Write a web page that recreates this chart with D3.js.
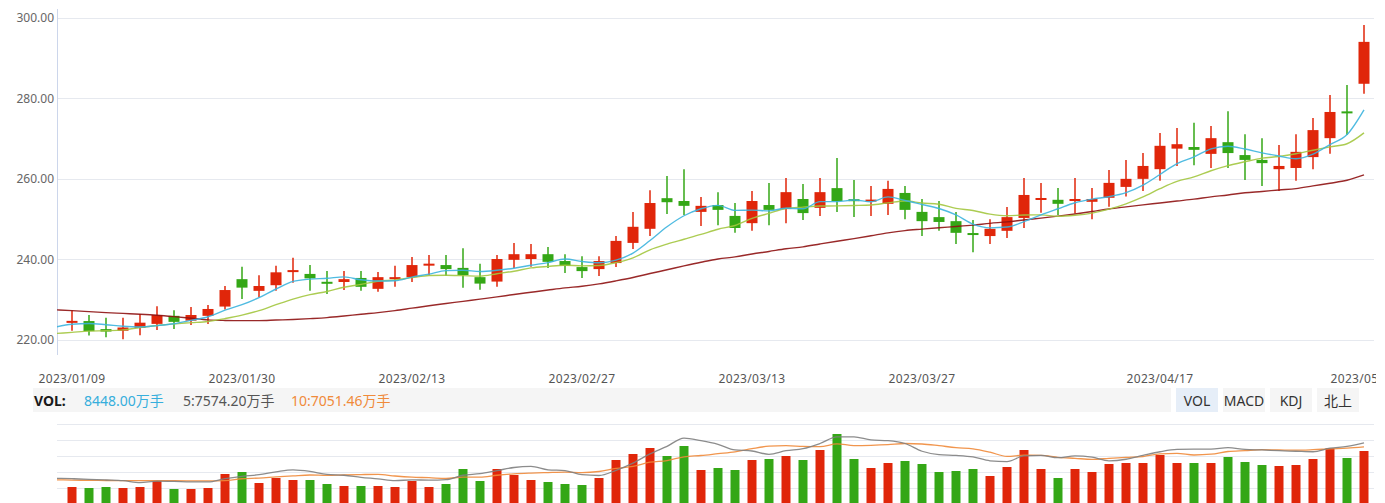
<!DOCTYPE html>
<html><head><meta charset="utf-8">
<script src="https://cdn.jsdelivr.net/npm/d3@7"></script>
<style>
html,body{margin:0;padding:0;background:#fff;overflow:hidden}
svg{display:block;font-family:"Noto Sans","Noto Sans CJK SC",sans-serif}
</style></head><body>
<svg id="c" width="1385" height="503"></svg>
<script>
// ---------------- data ----------------
const prevDate = "2023/01/06";
const dates = [
"2023/01/09","2023/01/10","2023/01/11","2023/01/12","2023/01/13","2023/01/16","2023/01/17","2023/01/18","2023/01/19","2023/01/20",
"2023/01/30","2023/01/31","2023/02/01","2023/02/02","2023/02/03","2023/02/06","2023/02/07","2023/02/08","2023/02/09","2023/02/10",
"2023/02/13","2023/02/14","2023/02/15","2023/02/16","2023/02/17","2023/02/20","2023/02/21","2023/02/22","2023/02/23","2023/02/24",
"2023/02/27","2023/02/28","2023/03/01","2023/03/02","2023/03/03","2023/03/06","2023/03/07","2023/03/08","2023/03/09","2023/03/10",
"2023/03/13","2023/03/14","2023/03/15","2023/03/16","2023/03/17","2023/03/20","2023/03/21","2023/03/22","2023/03/23","2023/03/24",
"2023/03/27","2023/03/28","2023/03/29","2023/03/30","2023/03/31","2023/04/03","2023/04/04","2023/04/06","2023/04/07",
"2023/04/10","2023/04/11","2023/04/12","2023/04/13","2023/04/14","2023/04/17","2023/04/18","2023/04/19","2023/04/20","2023/04/21",
"2023/04/24","2023/04/25","2023/04/26","2023/04/27","2023/04/28","2023/05/04","2023/05/05","2023/05/08"];
const open  = [224.3,224.7,222.7,222.3,223.0,224.0,226.0,224.8,226.0,228.3,
235.1,232.2,233.6,236.7,236.4,234.2,234.4,235.4,232.7,235.1,
235.6,238.5,238.6,237.9,235.6,234.5,239.9,240.1,241.3,239.6,
238.1,237.6,239.1,244.1,247.6,255.2,254.5,251.8,253.5,250.8,
249.0,253.5,252.5,255.0,252.8,257.7,254.7,254.4,253.8,256.5,
251.8,250.5,249.5,246.3,245.8,247.1,250.3,254.8,254.8,
254.5,254.3,255.3,258.0,260.0,262.4,267.5,267.9,266.2,269.1,
265.9,264.7,262.4,262.7,265.4,270.1,276.5,283.6];
const high  = [227.3,226.2,225.5,225.5,226.4,228.4,227.4,228.2,228.7,233.4,
238.2,236.1,238.4,240.4,238.6,237.1,237.1,237.1,236.9,238.4,
240.6,241.1,241.1,242.8,238.9,241.1,244.1,243.8,243.1,241.3,
240.8,240.8,245.8,251.8,257.2,260.7,262.4,255.5,256.7,254.0,
257.0,259.0,260.2,258.7,260.2,265.2,259.7,258.2,259.5,258.2,
255.0,254.5,251.8,249.8,250.0,253.0,260.2,259.0,257.7,
260.2,257.7,262.2,264.7,266.4,271.4,272.6,273.9,273.1,276.8,
271.1,270.1,268.4,271.1,275.1,280.8,283.3,298.2];
const low   = [222.3,221.1,220.7,220.2,221.2,222.5,222.7,223.7,224.0,227.6,
230.2,230.6,232.2,234.2,232.2,231.4,232.4,232.2,232.0,233.2,
234.4,236.1,235.9,233.0,232.5,233.2,237.9,238.2,237.9,236.6,
235.4,235.9,238.1,242.6,245.8,251.3,251.0,248.3,248.5,246.6,
247.1,248.5,249.0,249.8,250.8,251.8,250.5,250.8,251.0,250.0,
245.8,247.1,243.8,241.8,243.8,245.3,247.8,251.6,251.0,
251.4,250.0,253.1,255.6,257.0,259.5,263.2,263.4,262.7,262.7,
259.7,258.2,257.0,259.5,262.4,266.2,270.9,281.1];
const close = [224.5,222.2,222.1,223.1,224.3,226.2,224.5,226.2,227.7,232.4,
233.0,233.4,236.8,237.1,235.3,234.0,235.1,233.2,235.6,235.6,
238.6,238.7,237.6,236.1,234.0,240.1,241.3,241.3,239.4,238.4,
237.1,239.6,244.6,248.1,254.0,254.2,253.3,253.3,252.3,247.8,
254.5,252.3,256.7,251.5,256.7,254.5,254.3,254.6,257.5,252.3,
249.5,249.3,246.6,246.2,247.6,250.5,256.0,255.0,253.8,
255.0,255.0,259.0,260.0,263.2,268.2,268.6,267.2,270.1,266.4,
264.7,263.9,263.2,266.7,272.1,276.6,276.3,294.0];
// volume in 万手
const volume = [2655,2494,2655,2494,2655,3620,2333,2333,2494,4747,
5068,3298,4103,3781,3781,3138,2816,2816,2816,2655,
3620,2655,3138,5551,3620,5551,4586,3781,3459,3138,
2977,4103,6999,7965,8930,7643,9252,5390,5712,5390,
6999,7160,7643,6999,8608,11183,7160,5712,6516,6838,
6356,5068,5229,5551,4425,5873,8608,5551,4103,
5551,5068,6356,6516,6516,7804,6516,6516,6516,7482,
6677,6195,6034,6195,7160,8882,7321,8448];
// moving averages (first entry belongs to prevDate)
const ma5 = [223.2,223.9,224.1,223.8,223.4,223.24,223.58,224.04,224.86,225.78,227.40,
228.76,230.54,232.66,234.54,235.12,235.32,235.66,234.94,234.64,234.70,
235.62,236.34,237.22,237.32,237.00,237.30,237.82,238.56,239.22,240.10,
239.50,239.16,239.82,241.56,244.68,248.10,250.84,252.58,253.42,252.18,
252.24,252.04,252.72,252.56,254.34,254.34,254.74,254.32,255.52,254.64,
253.64,252.64,251.04,248.78,247.84,248.04,249.38,251.06,252.58,
254.06,254.96,255.56,256.56,258.44,261.08,263.80,265.44,267.46,268.10,
267.40,266.46,265.66,264.98,266.12,268.50,270.98,277.14];
const ma10 = [221.6,221.9,222.2,222.3,222.5,223.1,223.6,224.0,224.3,224.6,225.32,
226.17,227.29,228.76,230.16,231.26,232.04,233.10,233.80,234.59,234.91,
235.47,236.00,236.08,235.98,235.85,236.46,237.08,237.89,238.27,238.55,
238.40,238.49,239.19,240.39,242.39,243.80,245.00,246.20,247.49,248.43,
250.17,251.44,252.65,252.99,253.26,253.29,253.39,253.52,254.04,254.49,
253.99,253.69,252.68,252.15,251.24,250.84,251.01,251.05,250.68,
250.95,251.50,252.47,253.81,255.51,257.57,259.38,260.50,262.01,263.27,
264.24,265.13,265.55,266.22,267.11,267.95,268.72,271.40];
const ma30 = [227.5,227.3,227.05,226.8,226.6,226.4,226.15,225.8,225.4,225.0,224.85,
224.8,224.8,224.95,225.1,225.3,225.55,225.95,226.4,226.8,227.3,
227.9,228.5,229.05,229.6,230.15,230.7,231.3,231.85,232.4,232.93,
233.35,233.93,234.68,235.51,236.50,237.43,238.39,239.30,240.12,240.63,
241.35,241.98,242.64,243.12,243.83,244.52,245.16,245.87,246.60,247.16,
247.52,247.87,248.17,248.51,248.96,249.31,249.80,250.26,250.74,
251.29,251.89,252.53,253.05,253.55,254.02,254.50,254.97,255.53,256.00,
256.56,256.87,257.24,257.57,258.26,258.92,259.65,260.97];
const volMa5 = [3140,3090,3020,2930,2840,2591,2784,2751,2687,2687,3105,
3395,3588,3942,4199,4006,3620,3524,3266,3073,2848,
2945,2912,2977,3524,3717,4103,4489,4618,4199,4103,
3588,3492,4135,5036,6195,7128,8158,7836,7385,6677,
6549,6130,6581,6838,7482,8319,8319,7932,7836,7482,
6516,6098,6001,5808,5326,5229,5937,6002,5712,
5937,5776,5326,5519,6001,6452,6742,6774,6774,6967,
6741,6677,6581,6517,6452,6893,7118,7574.2];
const volMa10 = [2950,2920,2890,2870,2860,2850,2860,2840,2820,2820,2848,
3089,3170,3315,3443,3556,3508,3556,3604,3636,3427,
3282,3218,3122,3299,3283,3524,3701,3797,3862,3910,
3846,3990,4377,4618,5149,5358,5825,5986,6211,6436,
6838,7144,7208,7112,7080,7434,7224,7257,7337,7482,
7418,7208,6967,6822,6404,5873,6018,6002,5760,
5632,5503,5632,5760,5857,6195,6259,6050,6146,6484,
6597,6709,6677,6645,6710,6817,6898,7051.46];
const tickDates = ["2023/01/09","2023/01/30","2023/02/13","2023/02/27","2023/03/13","2023/03/27","2023/04/17","2023/05/08"];
const priceTicks = [220,240,260,280,300];
const legendLabel = "VOL:";
const legendTexts = ["8448.00万手","5:7574.20万手","10:7051.46万手"];
const tabs = ["VOL","MACD","KDJ","北上"];

// ---------------- drawing ----------------
const UP = "#e0260a", DOWN = "#34a716";
const svg = d3.select("#c");
const L = 57, R = 1374;
const allDates = [prevDate, ...dates];
const x = d3.scaleBand().domain(allDates).range([46.5, 1372.5]);
const cx = d => x(d) + x.bandwidth() / 2;
const y = d3.scaleLinear().domain([220, 300]).range([340, 17.7]);
const yv = d3.scaleLinear().domain([0, 12873]).range([503.5, 423.5]);
const yvl = d3.scaleLinear().domain([0, 9976]).range([503.5, 423.5]);

const defs = svg.append("defs");
defs.append("clipPath").attr("id", "cp").append("rect").attr("x", L).attr("y", 0).attr("width", R - L + 2).attr("height", 356);
defs.append("clipPath").attr("id", "cv").append("rect").attr("x", L).attr("y", 415).attr("width", R - L + 2).attr("height", 90);
defs.append("clipPath").attr("id", "cx").append("rect").attr("x", 0).attr("y", 360).attr("width", 1376).attr("height", 28);

// price grid
svg.append("g").selectAll("line").data(priceTicks).join("line")
  .attr("x1", L).attr("x2", R).attr("y1", d => Math.round(y(d)) + 0.5).attr("y2", d => Math.round(y(d)) + 0.5)
  .attr("stroke", "#e6e9ef").attr("stroke-width", 1);
svg.append("g").selectAll("text").data(priceTicks).join("text")
  .attr("x", 54).attr("y", d => y(d)).attr("dy", "0.36em").attr("text-anchor", "end")
  .attr("font-size", 12).attr("fill", "#666").text(d => d.toFixed(2));
svg.append("line").attr("x1", L + 0.5).attr("x2", L + 0.5).attr("y1", 9).attr("y2", 355)
  .attr("stroke", "#ccd6eb").attr("stroke-width", 1);

// candles
const idx = d3.range(dates.length);
const pg = svg.append("g").attr("clip-path", "url(#cp)");
const bw = 11;
pg.append("g").selectAll("line").data(idx).join("line")
  .attr("x1", i => cx(dates[i])).attr("x2", i => cx(dates[i]))
  .attr("y1", i => y(high[i])).attr("y2", i => y(low[i]))
  .attr("stroke", i => close[i] >= open[i] ? UP : DOWN).attr("stroke-width", 1.5);
pg.append("g").selectAll("rect").data(idx).join("rect")
  .attr("x", i => cx(dates[i]) - bw / 2)
  .attr("y", i => Math.min(y(open[i]), y(close[i])) - (Math.abs(y(open[i]) - y(close[i])) < 2 ? 1 : 0))
  .attr("width", bw)
  .attr("height", i => Math.max(2, Math.abs(y(open[i]) - y(close[i]))))
  .attr("fill", i => close[i] >= open[i] ? UP : DOWN);

// MA lines
const lineP = arr => d3.line().curve(d3.curveMonotoneX)
  .x((d, i) => cx(allDates[i])).y(d => y(d))(arr);
[[ma30, "#8e1212"], [ma10, "#a3c63f"], [ma5, "#3cb4de"]].forEach(([arr, col]) => {
  pg.append("path").attr("d", lineP(arr)).attr("fill", "none").attr("stroke", col)
    .attr("stroke-width", 1.4).attr("stroke-opacity", 0.9);
});

// x labels (clipped at the chart's right edge as in the source)
svg.append("g").attr("clip-path", "url(#cx)").selectAll("text").data(tickDates).join("text")
  .attr("x", d => cx(d)).attr("y", 383).attr("text-anchor", "middle")
  .attr("font-size", 12).attr("letter-spacing", "0.3px").attr("fill", "#555").text(d => d);

// legend bar
svg.append("rect").attr("x", 33).attr("y", 388).attr("width", 1138).attr("height", 24).attr("fill", "#f5f5f5");
svg.append("text").attr("x", 34).attr("y", 405.5).attr("font-size", 14).attr("font-weight", "bold")
  .attr("fill", "#1a1a1a").text(legendLabel);
const legX = [84, 183, 291], legC = ["#36aedc", "#555555", "#f08a3a"];
legendTexts.forEach((t, i) => {
  svg.append("text").attr("x", legX[i]).attr("y", 405.5).attr("font-size", 14).attr("fill", legC[i]).text(t);
});
// tabs
tabs.forEach((t, i) => {
  const bx = 1176 + i * 47;
  svg.append("rect").attr("x", bx).attr("y", 388).attr("width", 42).attr("height", 24)
    .attr("fill", i === 0 ? "#e6eef8" : "#f5f5f5");
  svg.append("text").attr("x", bx + 21).attr("y", 405.5).attr("text-anchor", "middle")
    .attr("font-size", 14).attr("fill", "#333").text(t);
});

// volume grid
const vTicks = [1, 2, 3, 4, 5].map(k => yv.domain()[1] * k / 5);
svg.append("g").selectAll("line").data(vTicks).join("line")
  .attr("x1", L).attr("x2", R).attr("y1", d => Math.round(yv(d)) + 0.5).attr("y2", d => Math.round(yv(d)) + 0.5)
  .attr("stroke", "#e6e9ef").attr("stroke-width", 1);
const vg = svg.append("g").attr("clip-path", "url(#cv)");
const vw = 9;
vg.append("g").selectAll("rect").data(idx).join("rect")
  .attr("x", i => cx(dates[i]) - vw / 2).attr("y", i => yv(volume[i]))
  .attr("width", vw).attr("height", i => yv(0) - yv(volume[i]))
  .attr("fill", i => close[i] >= open[i] ? UP : DOWN);
const lineV = arr => d3.line().curve(d3.curveMonotoneX)
  .x((d, i) => cx(allDates[i])).y(d => yvl(d))(arr);
[[volMa10, "#f08a3a"], [volMa5, "#808080"]].forEach(([arr, col]) => {
  vg.append("path").attr("d", lineV(arr)).attr("fill", "none").attr("stroke", col)
    .attr("stroke-width", 1.3).attr("stroke-opacity", 0.9);
});
</script>
</body></html>
